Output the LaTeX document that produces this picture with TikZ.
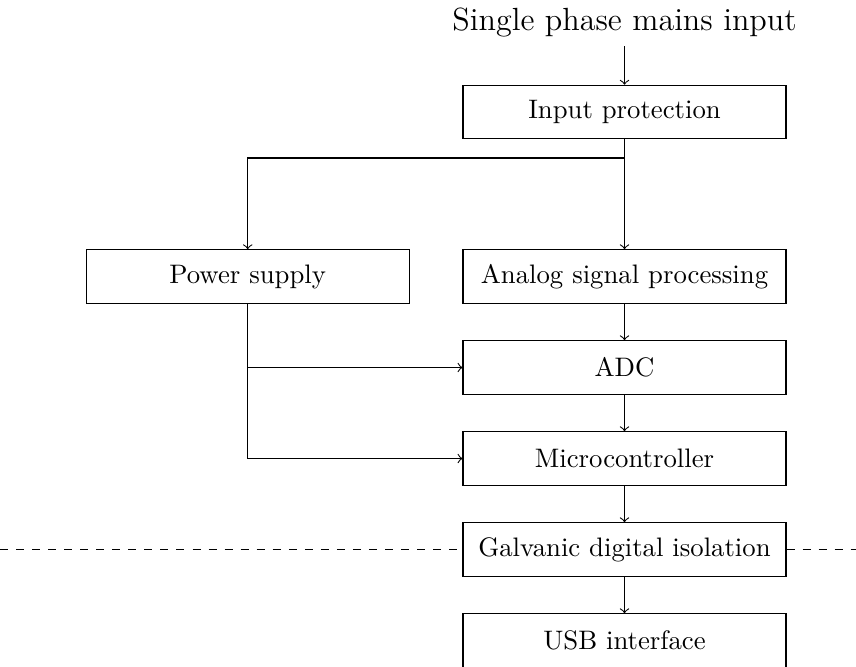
\documentclass[tikz,border=0pt]{standalone}
\usepackage{amsmath,amssymb}
\usepackage{xcolor}
\usepackage{tikz}

\tikzset{
  block/.style={draw, minimum width=120.8pt, minimum height=20pt, inner sep=0.75pt},
  link/.style={->}
}

\begin{document}
\begin{tikzpicture}[x=0.374pt,y=0.374pt,yscale=-1,xscale=1]
%set diagram left start at 0, and has height of 666
\useasboundingbox (0,0) rectangle (856,666);
% Text Node
\node [font=\large] (mains) at (624.5,22) {Single phase mains input};
%Shape: Rectangle
\node [block] (inprot) at (624.5,112) {Input protection};
%Shape: Rectangle
\node [block] (power) at (247.7,276.5) {Power supply};
%Shape: Rectangle
\node [block] (analog) at (624.5,276.5) {Analog signal processing};
%Shape: Rectangle
\node [block] (adc) at (624.5,367.5) {ADC};
%Shape: Rectangle
\node [block] (micro) at (624.5,458.5) {Microcontroller};
%Shape: Rectangle
\node [block] (galv) at (624.5,549.5) {Galvanic digital isolation};
%Shape: Rectangle
\node [block] (usb) at (624.5,640.5) {USB interface};
%Straight Lines
\coordinate (split) at (624.5,158);
\coordinate (edgeL) at (0,549.5);
\coordinate (edgeR) at (856,549.5);
\draw [link] (mains) -- (inprot);
\draw [link] (inprot) -- (analog);
\draw [link] (split) -| (power.north);
\draw [link] (analog) -- (adc);
\draw [link] (power.south) |- (adc.west);
\draw [link] (power.south) |- (micro.west);
\draw [link] (adc) -- (micro);
\draw [link] (micro) -- (galv);
\draw [link] (galv) -- (usb);
%Dashed Lines
\draw [dashed] (edgeL) -- (galv.west);
\draw [dashed] (galv.east) -- (edgeR);
\end{tikzpicture}
\end{document}
